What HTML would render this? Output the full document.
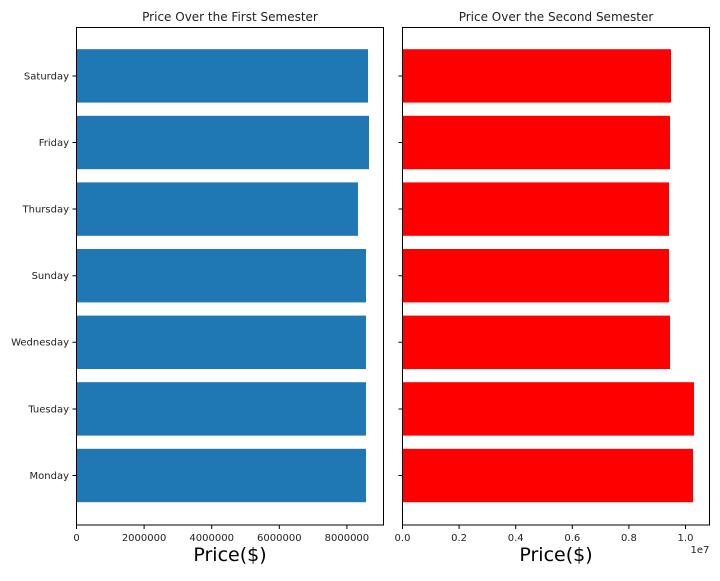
<!DOCTYPE html><html><head><style>body{margin:0;background:#fff}svg{font-family:"DejaVu Sans","Liberation Sans",sans-serif}</style></head><body>
<svg width="720" height="576" xmlns="http://www.w3.org/2000/svg">
<rect width="720" height="576" fill="#fff"/>
<g fill="#1f77b4">
<rect x="76.5" y="49.2" width="291.5" height="53.4"/>
<rect x="76.5" y="115.8" width="292.5" height="53.4"/>
<rect x="76.5" y="182.4" width="281.5" height="53.4"/>
<rect x="76.5" y="249" width="289.5" height="53.4"/>
<rect x="76.5" y="315.6" width="289.5" height="53.4"/>
<rect x="76.5" y="382.2" width="289.5" height="53.4"/>
<rect x="76.5" y="448.8" width="289.5" height="53.4"/>
</g>
<g fill="#ff0000">
<rect x="402.5" y="49.2" width="268.5" height="53.4"/>
<rect x="402.5" y="115.8" width="267.5" height="53.4"/>
<rect x="402.5" y="182.4" width="266.5" height="53.4"/>
<rect x="402.5" y="249" width="266.5" height="53.4"/>
<rect x="402.5" y="315.6" width="267.5" height="53.4"/>
<rect x="402.5" y="382.2" width="291.5" height="53.4"/>
<rect x="402.5" y="448.8" width="290.5" height="53.4"/>
</g>
<g fill="none" stroke="#000" stroke-width="1">
<rect x="76.5" y="27.5" width="307" height="497.5"/>
<rect x="402.5" y="27.5" width="307" height="497.5"/>
</g>
<g stroke="#000">
<path d="M76.5 525v4M144.1 525v4M211.7 525v4M279.3 525v4M346.9 525v4"/>
<path d="M402.5 525v4M459.1 525v4M515.7 525v4M572.3 525v4M628.9 525v4M685.5 525v4"/>
<path d="M72.5 76h4M72.5 142.5h4M72.5 209h4M72.5 275.7h4M72.5 342.3h4M72.5 409h4M72.5 475.5h4"/>
<path d="M398.5 76h4M398.5 142.5h4M398.5 209h4M398.5 275.7h4M398.5 342.3h4M398.5 409h4M398.5 475.5h4"/>
</g>
<g font-size="10" fill="#222" text-anchor="middle">
<text x="76.5" y="541">0</text><text x="144.1" y="541">2000000</text><text x="211.7" y="541">4000000</text><text x="279.3" y="541">6000000</text><text x="346.9" y="541">8000000</text>
<text x="402.5" y="541">0.0</text><text x="459.1" y="541">0.2</text><text x="515.7" y="541">0.4</text><text x="572.3" y="541">0.6</text><text x="628.9" y="541">0.8</text><text x="685.5" y="541">1.0</text>
<text x="700" y="553">1e7</text>
</g>
<g font-size="10" fill="#222" text-anchor="end">
<text x="69" y="79.5">Saturday</text><text x="69" y="146">Friday</text><text x="69" y="212.5">Thursday</text><text x="69" y="279">Sunday</text><text x="69" y="345.7">Wednesday</text><text x="69" y="412.5">Tuesday</text><text x="69" y="479">Monday</text>
</g>
<g font-size="12" fill="#222" text-anchor="middle">
<text x="230" y="21">Price Over the First Semester</text>
<text x="556" y="21">Price Over the Second Semester</text>
</g>
<g font-size="19" fill="#000" text-anchor="middle">
<text x="230" y="561">Price($)</text>
<text x="556" y="561">Price($)</text>
</g>
</svg>
</body></html>
